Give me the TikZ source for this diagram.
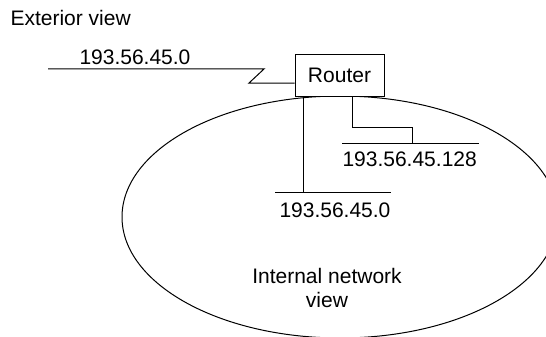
\documentclass[tikz,border=0pt]{standalone}
\usepackage{fontspec}
\setmainfont{Liberation Sans}
\usetikzlibrary{calc}
\begin{document}
\begin{tikzpicture}[x=1pt,y=-1pt,line width=1pt,
  lbl/.style={font=\fontsize{21}{24}\selectfont,inner sep=0pt},
  routerbox/.style={draw,fill=white,minimum width=89pt,minimum height=41pt,inner sep=0pt,font=\fontsize{21}{24}\selectfont}]
\useasboundingbox (0,0) rectangle (546,337);
\begin{scope}
  \clip (0,0) rectangle (546,337);
  \draw (340,217) ellipse [x radius=218pt, y radius=121pt];
\end{scope}
\node[routerbox] (router) at (339.5,75.5) {Router};
% exterior network
\coordinate (extA) at (48,69);
\coordinate (extB) at (264,69);
\coordinate (extC) at (249,83);
\draw (extA) -- (extB) -- (extC) -- (extC -| router.west);
% internal networks
\coordinate (netA1) at (275,192);
\coordinate (netA2) at (391,192);
\coordinate (dropA) at (303,192);
\draw (netA1) -- (netA2);
\draw (router.south -| dropA) -- (dropA);
\coordinate (netB1) at (342,143);
\coordinate (netB2) at (479,143);
\coordinate (bendB1) at (352,127);
\coordinate (bendB2) at (412,127);
\coordinate (dropB) at (412,143);
\draw (netB1) -- (netB2);
\draw (router.south -| bendB1) -- (bendB1) -- (bendB2) -- (dropB);
% labels
\node[lbl,anchor=base west] (ext) at (10,26) {Exterior view};
\node[lbl,anchor=base west] (extnet) at (79,64) {193.56.45.0};
\node[lbl,anchor=base west] (netA) at (279,217) {193.56.45.0};
\node[lbl,anchor=base west] (netB) at (342,166) {193.56.45.128};
\node[lbl,anchor=north,align=center] (internal) at (327,268) {Internal network\\view};
\end{tikzpicture}
\end{document}
